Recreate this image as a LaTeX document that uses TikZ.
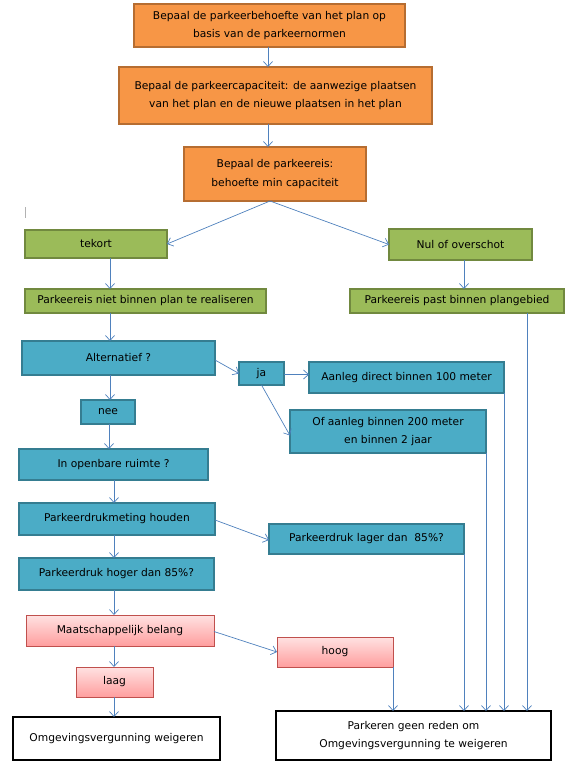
\documentclass[tikz,border=0pt]{standalone}
\usepackage{fontspec}
\setmainfont{DejaVu Sans}
\usetikzlibrary{arrows.meta,calc}
\definecolor{orfill}{HTML}{F79646}
\definecolor{ordraw}{HTML}{B66D31}
\definecolor{grfill}{HTML}{9BBB59}
\definecolor{grdraw}{HTML}{71893F}
\definecolor{blfill}{HTML}{4BACC6}
\definecolor{bldraw}{HTML}{357D91}
\definecolor{pktop}{HTML}{FFE2E2}
\definecolor{pkbot}{HTML}{FF9E9E}
\definecolor{pkdraw}{HTML}{C0504D}
\definecolor{arrcol}{HTML}{4F81BD}
\tikzset{
  base/.style={inner sep=0pt, outer sep=0pt, align=center,
    font=\fontsize{10.7}{18.5}\selectfont},
  obox/.style={base, fill=orfill, draw=ordraw, line width=1.4pt},
  gbox/.style={base, fill=grfill, draw=grdraw, line width=1.4pt},
  bbox/.style={base, fill=blfill, draw=bldraw, line width=1.4pt},
  pbox/.style={base, top color=pktop, bottom color=pkbot, draw=pkdraw, line width=0.8pt},
  kbox/.style={base, fill=white, draw=black, line width=1.6pt},
  arr/.style={draw=arrcol, line width=0.7pt, -{Straight Barb[length=5pt,width=9pt]}},
}
\newcommand{\bx}[7]{\node[#1, minimum width={#5-#3}, minimum height={#6-#4}] (#2) at ({(#3+#5)/2},{(#4+#6)/2}) {#7};}
\begin{document}
\begin{tikzpicture}[x=1pt,y=-1pt]
\useasboundingbox (0,0) rectangle (572,764);
% nodes
\bx{obox}{A}{134}{4}{405}{47}{Bepaal de parkeerbehoefte van het plan op\\basis van de parkeernormen}
\bx{obox}{B}{119}{67}{432}{124}{Bepaal de parkeercapaciteit: de aanwezige plaatsen\\van het plan en de nieuwe plaatsen in het plan}
\bx{obox}{C}{184}{147}{366}{201}{Bepaal de parkeereis:\\behoefte min capaciteit}
\bx{gbox}{D}{25}{230}{167}{258}{tekort}
\bx{gbox}{E}{389}{229}{532}{260}{Nul of overschot}
\bx{gbox}{F}{25}{289}{266}{313}{Parkeereis niet binnen plan te realiseren}
\bx{gbox}{G}{350}{289}{564}{313}{Parkeereis past binnen plangebied}
\bx{bbox}{H}{22}{341}{215}{375}{Alternatief ?}
\bx{bbox}{I}{239}{362}{284}{385}{ja}
\bx{bbox}{J}{309}{362}{504}{393}{Aanleg direct binnen 100 meter}
\bx{bbox}{K}{81}{400}{135}{424}{nee}
\bx{bbox}{L}{290}{410}{486}{453}{Of aanleg binnen 200 meter\\en binnen 2 jaar}
\bx{bbox}{M}{19}{449}{208}{480}{In openbare ruimte ?}
\bx{bbox}{N}{19}{503}{215}{535}{Parkeerdrukmeting houden}
\bx{bbox}{O}{269}{524}{464}{554}{Parkeerdruk lager dan\ \ 85\%?}
\bx{bbox}{P}{19}{558}{214}{590}{Parkeerdruk hoger dan 85\%?}
\bx{pbox}{Q}{26}{615}{214}{646}{Maatschappelijk belang}
\bx{pbox}{R}{277}{637}{393}{667}{hoog}
\bx{pbox}{S}{76}{667}{153}{697}{laag}
\bx{kbox}{T}{13}{717}{220}{760}{Omgevingsvergunning weigeren}
\bx{kbox}{U}{276}{711}{551}{760}{Parkeren geen reden om\\Omgevingsvergunning te weigeren}
% helper coordinates
\coordinate (sx) at (268,0);
\coordinate (l1) at (110,0);
\coordinate (l2) at (114,0);
\coordinate (rx) at (464,0);
\coordinate (gx) at (527,0);
% small grey mark
\draw[gray!60, line width=0.6pt] (25,207) -- (25,218);
% connectors
\draw[arr] (A.south -| sx) -- (B.north -| sx);
\draw[arr] (B.south -| sx) -- (C.north -| sx);
\draw[arr] ($(C.south -| sx)+(2,0)$) -- (D.east);
\draw[arr] ($(C.south -| sx)+(2,0)$) -- (E.west);
\draw[arr] (D.south -| l1) -- (F.north -| l1);
\draw[arr] (E.south -| rx) -- (G.north -| rx);
\draw[arr] (F.south -| l1) -- (H.north -| l1);
\draw[arr] ($(H.east)+(0,2)$) -- (I.west);
\draw[arr] ($(I.east)+(0,1)$) -- ($(I.east -| J.west)+(0,1)$);
\draw[arr] (I.south) -- ($(L.west)+(0,4)$);
\draw[arr] (H.south -| l1) -- (K.north -| l1);
\draw[arr] ($(K.south -| l1)+(-1,0)$) -- ($(M.north -| l1)+(-1,0)$);
\draw[arr] (M.south -| l2) -- (N.north -| l2);
\draw[arr] ($(N.east)+(0,1)$) -- ($(O.west)+(0,1)$);
\draw[arr] (N.south -| l2) -- (P.north -| l2);
\draw[arr] (P.south -| l2) -- (Q.north -| l2);
\draw[arr] ($(Q.east)+(0,1)$) -- (R.west);
\draw[arr] (Q.south -| l2) -- (S.north -| l2);
\draw[arr] (S.south -| l2) -- (T.north -| l2);
\draw[arr] (R.south east) -- (R.south east |- U.north);
\draw[arr] (O.south east) -- (O.south east |- U.north);
\draw[arr] (L.south east) -- (L.south east |- U.north);
\draw[arr] (J.south east) -- (J.south east |- U.north);
\draw[arr] (G.south -| gx) -- (U.north -| gx);
\end{tikzpicture}
\end{document}
